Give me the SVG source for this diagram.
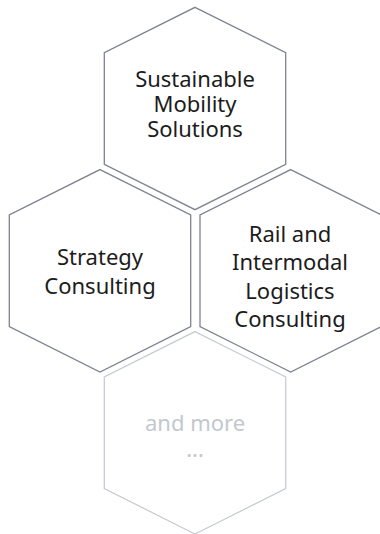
<svg xmlns="http://www.w3.org/2000/svg" width="380" height="534" viewBox="0 0 380 534">
<style>
.hex{fill:#ffffff;stroke:#7e838f;stroke-width:1.3}
.hex.light{stroke:#c8cdd4}
.t{font-family:"Noto Sans","Open Sans",sans-serif;font-size:22px;fill:#1c1c1c;text-anchor:middle}
.t.light{fill:#c3c8cf}
</style>
<rect width="380" height="534" fill="#ffffff"/>
<g id="connectors"/>
<g id="node-sustainable">
<polygon class="hex" points="195,7.3 285.7,52.7 285.7,164.3 195,209.7 104.3,164.3 104.3,52.7"/>
<text class="t" x="195" y="87.3">Sustainable</text>
<text class="t" x="195" y="112">Mobility</text>
<text class="t" x="195" y="136.7">Solutions</text>
</g>
<g id="node-strategy">
<polygon class="hex" points="100,169.6 190.7,215 190.7,326.6 100,372 9.3,326.6 9.3,215"/>
<text class="t" x="100" y="265">Strategy</text>
<text class="t" x="100" y="293.5">Consulting</text>
</g>
<g id="node-rail">
<polygon class="hex" points="290.7,169.6 381.4,215 381.4,326.6 290.7,372 200,326.6 200,215"/>
<text class="t" x="290" y="241.7">Rail and</text>
<text class="t" x="290" y="270.2">Intermodal</text>
<text class="t" x="290" y="298.7">Logistics</text>
<text class="t" x="290" y="327.2">Consulting</text>
</g>
<g id="node-more">
<polygon class="hex light" points="195,331.6 285.7,377 285.7,488.6 195,534 104.3,488.6 104.3,377"/>
<text class="t light" x="195" y="430.7">and more</text>
<text class="t light" x="195" y="457.3">...</text>
</g>
</svg>
